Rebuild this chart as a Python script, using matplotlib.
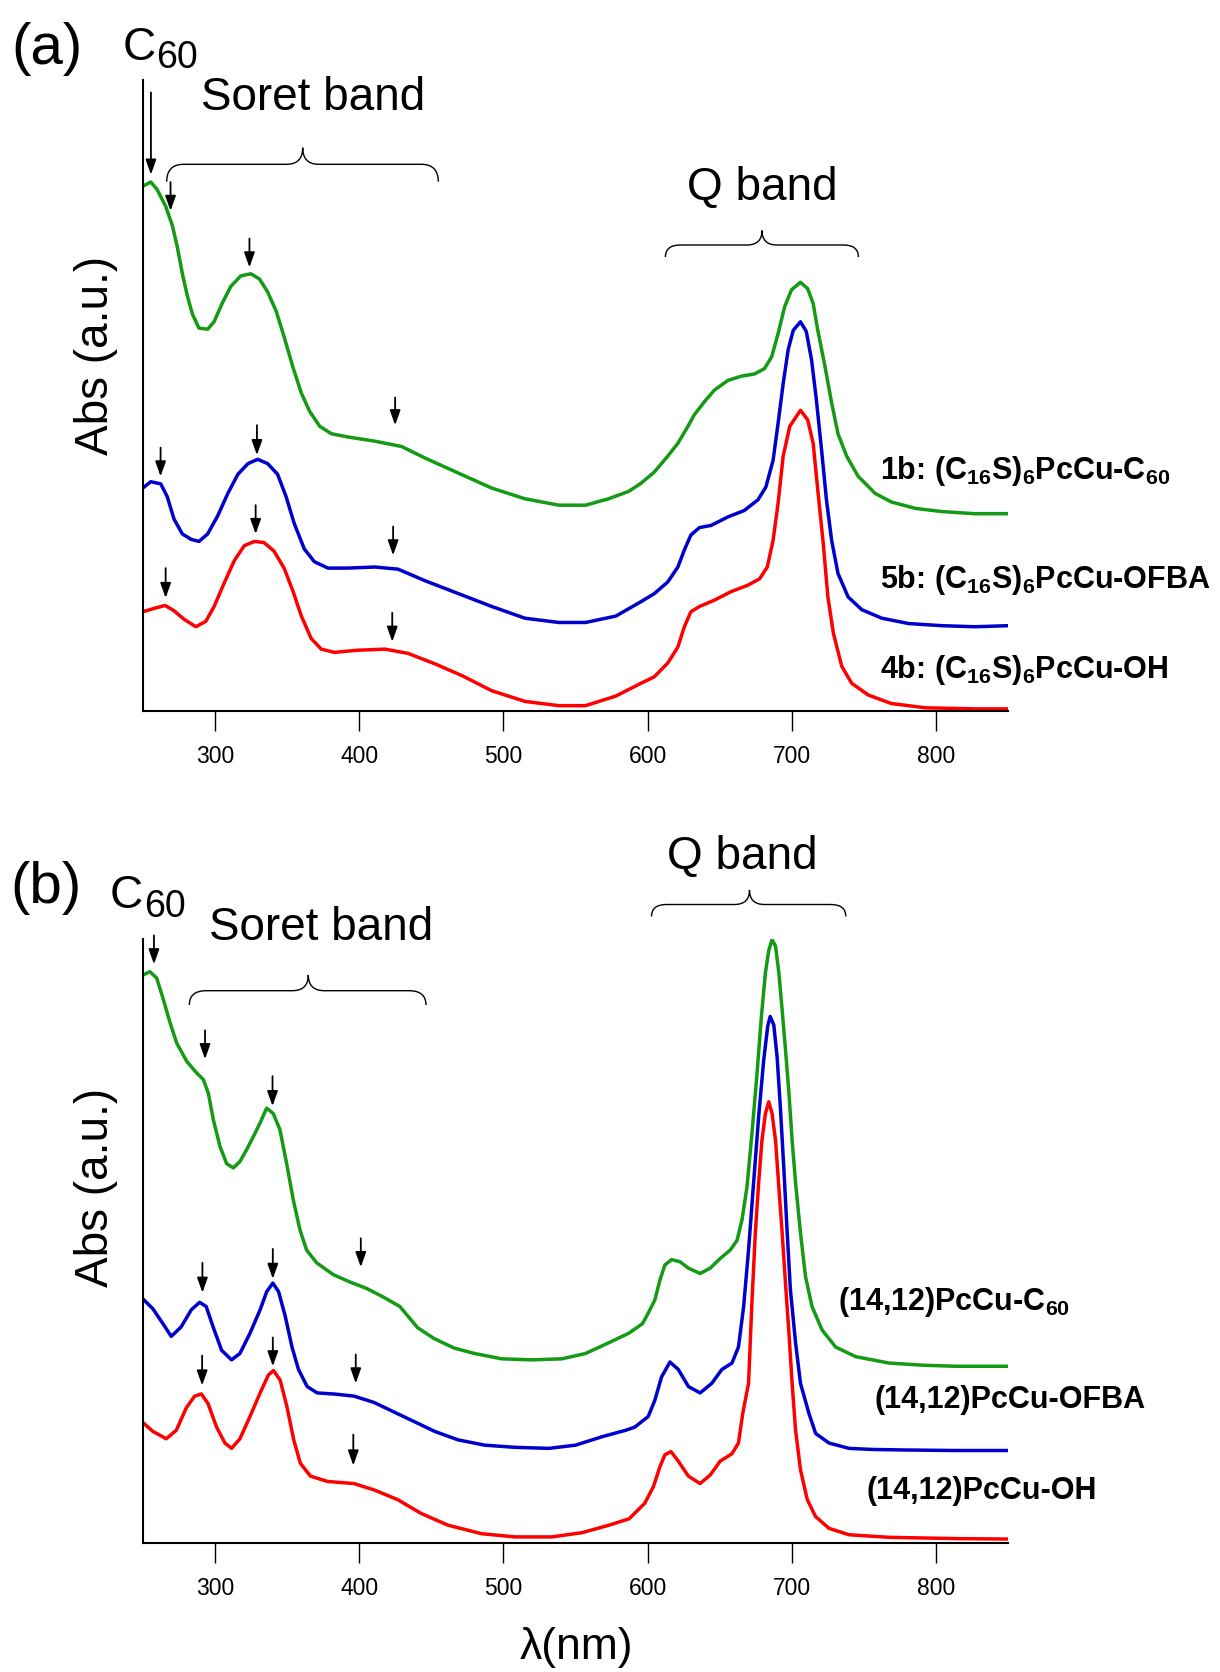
import numpy as np
import matplotlib
matplotlib.use('Agg')
import matplotlib.pyplot as plt
from matplotlib.path import Path
from matplotlib.patches import PathPatch

plt.rcParams['font.family'] = ['Liberation Sans', 'DejaVu Sans']
plt.rcParams['mathtext.fontset'] = 'custom'
plt.rcParams['mathtext.rm'] = 'Liberation Sans'
plt.rcParams['mathtext.bf'] = 'Liberation Sans:bold'

### data (wavelength in nm, absorbance in a.u.) ###

# panel (a)
wl_a_1b = [250, 255.6, 260, 266, 270.6, 274, 277.5, 281, 284.5, 289, 295, 299.5, 305, 311, 318, 325,
           331, 336.6, 342.5, 348, 354, 360, 365.7, 372.7, 380.8, 392, 411, 429.5, 446, 469, 492, 515,
           538.5, 557, 573, 587, 595.4, 604.6, 614, 621, 628, 632.5, 639.4, 646.4, 655.7, 665, 674, 681,
           686, 690.5, 695, 699.8, 706, 711, 714.8, 718, 723, 727.6, 732, 738, 746, 757.8, 769, 785.6,
           804, 827, 850]
abs_a_1b = [4.92, 4.96, 4.89, 4.73, 4.55, 4.35, 4.10, 3.89, 3.72, 3.59, 3.58, 3.65, 3.82, 3.98, 4.08, 4.10,
            4.05, 3.93, 3.75, 3.51, 3.23, 2.98, 2.81, 2.67, 2.60, 2.57, 2.53, 2.48, 2.37, 2.23, 2.09, 1.99,
            1.93, 1.93, 1.99, 2.06, 2.135, 2.24, 2.39, 2.51, 2.67, 2.78, 2.90, 3.01, 3.10, 3.14, 3.16, 3.21,
            3.32, 3.54, 3.79, 3.95, 4.02, 3.96, 3.82, 3.57, 3.23, 2.89, 2.60, 2.39, 2.20, 2.04, 1.96, 1.90,
            1.87, 1.85, 1.85]

wl_a_5b = [250, 255.6, 262.5, 267, 271.7, 277.5, 283.5, 289, 295, 302, 309, 316, 323, 329.7, 336.6, 343.5,
           349.4, 355, 362, 369, 378.4, 392, 411, 427, 446, 469, 492, 515, 538.5, 557, 578, 595.4, 604.6,
           614, 621, 625.5, 630, 636, 644, 655.7, 667, 676.5, 682, 687, 690.5, 694, 697.5, 701, 706, 710,
           713.7, 717, 720.6, 724, 727.6, 732, 739, 748.5, 762.4, 781, 804, 827, 850]
abs_a_5b = [2.09, 2.15, 2.13, 2.01, 1.80, 1.66, 1.61, 1.59, 1.66, 1.83, 2.04, 2.22, 2.32, 2.36, 2.32, 2.22,
            2.01, 1.76, 1.52, 1.40, 1.34, 1.34, 1.35, 1.33, 1.22, 1.10, 0.98, 0.87, 0.83, 0.83, 0.89, 1.025, 1.10,
            1.21, 1.35, 1.51, 1.65, 1.72, 1.74, 1.82, 1.88, 1.98, 2.10, 2.35, 2.70, 3.07, 3.39, 3.57, 3.65, 3.56,
            3.29, 2.92, 2.45, 1.98, 1.60, 1.29, 1.07, 0.95, 0.87, 0.82, 0.80, 0.79, 0.80]

wl_a_4b = [250, 257.4, 265.5, 271.7, 278.7, 286.8, 293.7, 299.5, 306.5, 313.5, 320.4, 327.4, 334, 341, 348,
           354, 360, 366.8, 373.8, 383, 399, 418, 434, 453, 471.6, 492, 515, 538.5, 557, 578, 595.4, 604.6,
           614, 621, 625.5, 630, 636, 646.4, 658, 669.6, 677.7, 683, 687, 690.5, 694, 698.6, 706, 711, 714.8,
           718, 721.8, 725, 728.8, 734.6, 741.5, 753, 769, 792.6, 827, 850]
abs_a_4b = [0.93, 0.96, 0.99, 0.94, 0.86, 0.79, 0.84, 0.98, 1.20, 1.41, 1.55, 1.59, 1.58, 1.50, 1.34,
            1.13, 0.89, 0.68, 0.58, 0.55, 0.57, 0.58, 0.54, 0.44, 0.33, 0.19, 0.09, 0.05, 0.05, 0.14, 0.26, 0.32,
            0.45, 0.60, 0.79, 0.93, 0.98, 1.04, 1.12, 1.18, 1.24, 1.35, 1.60, 1.95, 2.39, 2.67, 2.82, 2.73, 2.51,
            2.07, 1.57, 1.07, 0.73, 0.42, 0.26, 0.15, 0.07, 0.03, 0.02, 0.02]

# panel (b)
wl_b_c60 = [250.4, 255, 259.7, 264.3, 269, 273.6, 280.5, 287.4, 292, 295.5, 299, 303.6, 308.2, 312.8, 317.4,
            322, 326.6, 331.3, 335.9, 340.5, 345.1, 349.8, 354.4, 359, 363.6, 370.6, 382, 393.7, 405.2, 416.7,
            428.3, 440.7, 452, 466, 480, 498.8, 519.8, 540.7, 557, 573, 587, 596.5, 600.5, 605, 608.6, 612,
            616.7, 622.5, 628.3, 636.4, 643.4, 650.3, 657.3, 662, 665.4, 668.9, 672.4, 675.9, 678.9, 681.7,
            684, 686.3, 688.7, 691, 693.3, 695.6, 698, 700.2, 702.6, 706, 709.5, 714, 721, 730.4, 744.3,
            767.5, 790.7, 814, 837, 850]
abs_b_c60 = [5.33, 5.36, 5.30, 5.10, 4.88, 4.69, 4.52, 4.41, 4.35, 4.22, 3.97, 3.72, 3.56, 3.52, 3.58,
             3.69, 3.81, 3.94, 4.08, 4.03, 3.88, 3.56, 3.22, 2.94, 2.75, 2.63, 2.52, 2.45, 2.39, 2.31,
             2.22, 2.02, 1.92, 1.83, 1.78, 1.73, 1.72, 1.73, 1.78, 1.88, 1.97, 2.06, 2.16, 2.28, 2.47, 2.61,
             2.66, 2.64, 2.58, 2.53, 2.58, 2.67, 2.75, 2.84, 3.03, 3.34, 3.85, 4.41, 4.94, 5.35,
             5.56, 5.66, 5.60, 5.35, 5.00, 4.63, 4.22, 3.78, 3.38, 2.91, 2.50, 2.22, 2.00, 1.84, 1.75,
             1.69, 1.67, 1.66, 1.66, 1.66]

wl_b_ofba = [249.5, 257, 264, 269.8, 276.7, 283.7, 289.5, 294, 298.8, 304.7, 311.6, 317.4, 324.4, 331.4, 336,
             340.2, 344.2, 348.8, 353.5, 358, 364, 371, 382.6, 396.5, 410.5, 424.4, 438.4, 452.3, 468.6, 487.2,
             508, 531.4, 550, 568.6, 584.9, 591.2, 600.5, 605, 609.7, 615.5, 621.3, 628.3, 636.4, 644.5, 651.5,
             658.5, 663, 666.6, 670, 673.5, 677, 680.5, 683.3, 685, 687.5, 689.8, 692, 694.4, 696.8, 699,
             702.6, 706, 711.8, 716.5, 725.8, 739.7, 756, 779, 814, 850]
abs_b_ofba = [2.30, 2.20, 2.06, 1.94, 2.03, 2.19, 2.26, 2.22, 2.03, 1.81, 1.72, 1.78, 1.97, 2.19, 2.36,
              2.44, 2.36, 2.13, 1.84, 1.63, 1.47, 1.41, 1.40, 1.38, 1.32, 1.23, 1.14, 1.05, 0.97, 0.92,
              0.90, 0.89, 0.92, 1.00, 1.06, 1.09, 1.19, 1.34, 1.56, 1.70, 1.63, 1.47, 1.41, 1.50, 1.63,
              1.69, 1.84, 2.22, 2.75, 3.38, 4.00, 4.53, 4.85, 4.94, 4.86, 4.56, 4.10, 3.53, 2.91, 2.38,
              1.88, 1.50, 1.22, 1.03, 0.94, 0.89, 0.88, 0.875, 0.87, 0.87]

wl_b_oh = [249.5, 257, 266.3, 273.3, 280.2, 286, 290.7, 295.3, 301.2, 307, 311.6, 317.4, 324.4, 331.4, 337.2,
           340.7, 345.3, 350, 354.7, 359.3, 366.3, 378, 396.5, 410.5, 426.7, 443, 461.6, 484.9, 508, 533.7,
           554.7, 573.3, 587.2, 598, 604, 608.6, 612, 616.2, 621.3, 628.3, 636.4, 643.4, 650.3, 658.5, 663,
           666, 670, 672.4, 674.7, 677, 679.3, 681.7, 684, 686.3, 688.7, 691, 693.3, 695.6, 698, 700.2,
           702.6, 706, 710.7, 716.5, 725.8, 739.7, 767.5, 814, 850]
abs_b_oh = [1.14, 1.05, 0.98, 1.06, 1.27, 1.38, 1.40, 1.31, 1.09, 0.94, 0.89, 0.98, 1.19, 1.41, 1.58,
            1.62, 1.53, 1.28, 0.97, 0.75, 0.63, 0.58, 0.56, 0.50, 0.41, 0.28, 0.17, 0.09, 0.06, 0.06,
            0.10, 0.17, 0.23, 0.375, 0.53, 0.72, 0.83, 0.86, 0.77, 0.63, 0.56, 0.64, 0.77, 0.84, 0.94,
            1.22, 1.50, 2.28, 2.91, 3.38, 3.78, 4.03, 4.14, 4.03, 3.78, 3.34, 2.91, 2.44, 1.97, 1.50,
            1.06, 0.69, 0.41, 0.25, 0.14, 0.08, 0.056, 0.044, 0.04]

labels_a = ['1b: (C$_{\\mathbf{16}}$S)$_{\\mathbf{6}}$PcCu-C$_{\\mathbf{60}}$',
            '5b: (C$_{\\mathbf{16}}$S)$_{\\mathbf{6}}$PcCu-OFBA',
            '4b: (C$_{\\mathbf{16}}$S)$_{\\mathbf{6}}$PcCu-OH']
labels_b = ['(14,12)PcCu-C$_{\\mathbf{60}}$', '(14,12)PcCu-OFBA', '(14,12)PcCu-OH']

# peak markers: wavelength, arrow top, arrow tip
arrows_a = [(255.7, 5.80, 5.03), (269.3, 4.96, 4.69), (324, 4.43, 4.16), (425, 2.94, 2.68),
            (262.4, 2.47, 2.20), (329.2, 2.68, 2.40), (423.6, 1.73, 1.46),
            (265.9, 1.34, 1.06), (328.3, 1.93, 1.66), (423, 0.92, 0.65)]
arrows_b = [(257.8, 5.70, 5.43), (293.2, 4.81, 4.54), (340, 4.38, 4.10), (401.2, 2.86, 2.59),
            (291.4, 2.63, 2.35), (340.2, 2.76, 2.48), (397.7, 1.77, 1.50),
            (291.2, 1.76, 1.48), (340.2, 1.93, 1.66), (396, 1.02, 0.73)]

xticks = [300, 400, 500, 600, 700, 800]
colors = ['#149a14', '#0000cc', '#ff0000']

W, H = 1220, 1672


def fx(x):
    return x / W


def fy(y):
    return 1 - y / H


def brace(fig, x0, x1, xm, y_line, y_end, y_tip, r=17, rm=16):
    # curly brace drawn in pixel coords of the figure
    pts = [(x0, y_end), (x0, y_line), (x0 + r, y_line), (xm - rm, y_line), (xm, y_line), (xm, y_tip),
           (xm, y_line), (xm + rm, y_line), (x1 - r, y_line), (x1, y_line), (x1, y_end)]
    codes = [Path.MOVETO, Path.CURVE3, Path.CURVE3, Path.LINETO, Path.CURVE3, Path.CURVE3,
             Path.CURVE3, Path.CURVE3, Path.LINETO, Path.CURVE3, Path.CURVE3]
    verts = [(fx(x), fy(y)) for x, y in pts]
    fig.add_artist(PathPatch(Path(verts, codes), transform=fig.transFigure, fill=False,
                             lw=1.0, color='k'))


def setup(ax, ymax):
    ax.set_xlim(250, 850)
    ax.set_ylim(0, ymax)
    for s in ['top', 'right']:
        ax.spines[s].set_visible(False)
    for s in ['left', 'bottom']:
        ax.spines[s].set_linewidth(1.5)
    ax.set_yticks([])
    ax.set_xticks(xticks)
    ax.tick_params(axis='x', direction='out', length=14.4, width=1.0, labelsize=16.5, pad=10)


fig = plt.figure(figsize=(W / 100, H / 100), dpi=100)
ax_a = fig.add_axes([fx(142.7), fy(711), (1008.2 - 142.7) / W, (711 - 80) / H])
ax_b = fig.add_axes([fx(142.7), fy(1543.3), (1008.2 - 142.7) / W, (1543.3 - 939.3) / H])
setup(ax_a, (711 - 80) * 0.009377)
setup(ax_b, (1543.3 - 939.3) * 0.009377)

for wl, a, c in zip([wl_a_1b, wl_a_5b, wl_a_4b], [abs_a_1b, abs_a_5b, abs_a_4b], colors):
    ax_a.plot(wl, a, color=c, lw=2.5)
for wl, a, c in zip([wl_b_c60, wl_b_ofba, wl_b_oh], [abs_b_c60, abs_b_ofba, abs_b_oh], colors):
    ax_b.plot(wl, a, color=c, lw=2.5)

arrowprops = dict(arrowstyle='-|>,head_length=0.45,head_width=0.16', color='k', lw=1.3,
                  mutation_scale=20, shrinkA=0, shrinkB=0)
for ax, arrows in [(ax_a, arrows_a), (ax_b, arrows_b)]:
    for x, top, tip in arrows:
        ax.annotate('', xy=(x, tip), xytext=(x, top), arrowprops=arrowprops, annotation_clip=False)

# series labels
for (x, y), lab in zip([(761.1, 2.18), (761.1, 1.15), (761.1, 0.31)], labels_a):
    ax_a.text(x, y, lab, fontsize=22, fontweight='bold', va='baseline', ha='left', clip_on=False)
for (x, y), lab in zip([(732.2, 2.19), (757, 1.27), (752, 0.42)], labels_b):
    ax_b.text(x, y, lab, fontsize=22, fontweight='bold', va='baseline', ha='left', clip_on=False)

# panel letters and band annotations
fig.text(fx(11), fy(64), '(a)', fontsize=42, va='baseline')
fig.text(fx(123), fy(60), 'C', fontsize=33, va='baseline')
fig.text(fx(156), fy(68), '60', fontsize=27, va='baseline')
fig.text(fx(201), fy(110), 'Soret band', fontsize=33, va='baseline')
fig.text(fx(687), fy(200), 'Q band', fontsize=33, va='baseline')

fig.text(fx(10), fy(903), '(b)', fontsize=42, va='baseline')
fig.text(fx(110), fy(908), 'C', fontsize=33, va='baseline')
fig.text(fx(144), fy(917), '60', fontsize=27, va='baseline')
fig.text(fx(209), fy(940), 'Soret band', fontsize=33, va='baseline')
fig.text(fx(667), fy(869), 'Q band', fontsize=33, va='baseline')

brace(fig, 166.7, 438.3, 302.7, 164.3, 181.7, 147.7)
brace(fig, 665.4, 858.4, 762.0, 245.0, 257.0, 230.5, r=15, rm=15)
brace(fig, 189.3, 426.0, 308.3, 990.7, 1005.0, 975.0)
brace(fig, 651.5, 845.8, 749.5, 904.5, 916.5, 890.0, r=15, rm=15)

fig.text(fx(96), fy(355), 'Abs (a.u.)', fontsize=33, rotation=90, ha='center', va='center')
fig.text(fx(96), fy(1187), 'Abs (a.u.)', fontsize=33, rotation=90, ha='center', va='center')
fig.text(fx(576), fy(1648), 'λ(nm)', fontsize=32, ha='center', va='center')

fig.savefig('out.png', dpi=100)
